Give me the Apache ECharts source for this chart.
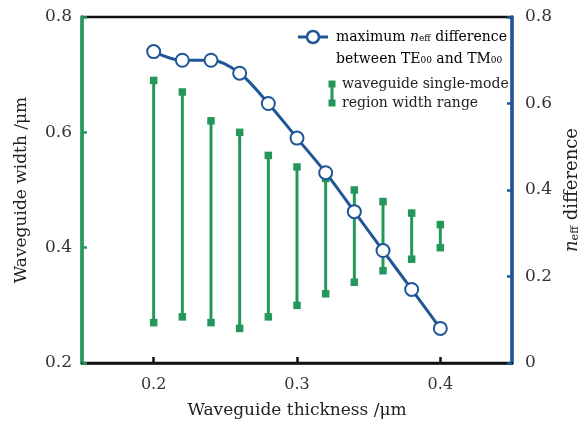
<!DOCTYPE html>
<html>
<head>
<meta charset="utf-8">
<script src="https://cdn.jsdelivr.net/npm/echarts@6/dist/echarts.min.js"></script>
<style>
  html, body { margin: 0; padding: 0; background: #fff; }
  #chart { width: 579px; height: 425px; }
</style>
</head>
<body>
<div id="chart"></div>
<script>
// Waveguide thickness (µm)
const thickness = [0.20, 0.22, 0.24, 0.26, 0.28, 0.30, 0.32, 0.34, 0.36, 0.38, 0.40];
// Single-mode width range (µm): lower and upper bounds
const widthLow  = [0.27, 0.28, 0.27, 0.26, 0.28, 0.30, 0.32, 0.34, 0.36, 0.38, 0.40];
const widthHigh = [0.69, 0.67, 0.62, 0.60, 0.56, 0.54, 0.52, 0.50, 0.48, 0.46, 0.44];
// Maximum n_eff difference between TE00 and TM00
const neffDiff  = [0.72, 0.70, 0.70, 0.67, 0.60, 0.52, 0.44, 0.35, 0.26, 0.17, 0.08];
// Tick values
const xTicks = [0.2, 0.3, 0.4];

const BLUE = '#1f5696';
const GREEN = '#23985a';
const FONT = 'DejaVu Serif';

const chart = echarts.init(document.getElementById('chart'), null, { renderer: 'canvas' });

const rangeData = thickness.map((t, i) => [t, widthLow[i], widthHigh[i]]);
const lineData = thickness.map((t, i) => [t, neffDiff[i]]);

function renderRange(params, api) {
  const x = api.value(0);
  const lo = api.coord([x, api.value(1)]);
  const hi = api.coord([x, api.value(2)]);
  const s = 7.5;
  return {
    type: 'group',
    children: [
      { type: 'line', shape: { x1: lo[0], y1: lo[1], x2: hi[0], y2: hi[1] },
        style: { stroke: GREEN, lineWidth: 3 } },
      { type: 'rect', shape: { x: lo[0] - s / 2, y: lo[1] - s / 2, width: s, height: s },
        style: { fill: GREEN } },
      { type: 'rect', shape: { x: hi[0] - s / 2, y: hi[1] - s / 2, width: s, height: s },
        style: { fill: GREEN } }
    ]
  };
}

const subRich = {
  it: { fontFamily: FONT, fontStyle: 'italic', fontSize: 18, color: '#222' },
  sub: { fontFamily: FONT, fontSize: 11, color: '#222', verticalAlign: 'bottom', padding: [6, 0, 0, 0] },
  t: { fontFamily: FONT, fontSize: 18, color: '#222' }
};

const legRich = {
  t: { fontFamily: FONT, fontSize: 14, color: '#222' },
  it: { fontFamily: FONT, fontSize: 14, fontStyle: 'italic', color: '#222' },
  sub: { fontFamily: FONT, fontSize: 9, color: '#222', padding: [4, 0, 0, 0] }
};

chart.setOption({
  animation: false,
  backgroundColor: '#fff',
  grid: { left: 82, right: 67, top: 17, bottom: 62, show: true, borderColor: '#111', borderWidth: 2.5,
    outerBoundsMode: 'none', containLabel: false },
  xAxis: {
    type: 'value', min: 0.15, max: 0.45,
    name: 'Waveguide thickness /μm', nameLocation: 'middle', nameGap: 39,
    nameTextStyle: { fontFamily: FONT, fontSize: 17, color: '#222' },
    axisLine: { show: true, onZero: false, lineStyle: { color: '#111', width: 2.5 } },
    axisTick: { show: true, inside: true, length: 6, customValues: xTicks, lineStyle: { color: '#111', width: 2.5 } },
    axisLabel: { customValues: xTicks, fontFamily: FONT, fontSize: 16, color: '#333', margin: 14,
      formatter: v => String(v) },
    splitLine: { show: false }
  },
  yAxis: [
    {
      type: 'value', min: 0.2, max: 0.8, interval: 0.2, position: 'left',
      name: 'Waveguide width /μm', nameLocation: 'middle', nameGap: 52, nameRotate: 90,
      nameTextStyle: { fontFamily: FONT, fontSize: 17, color: '#222' },
      axisLine: { show: true, lineStyle: { color: GREEN, width: 3.5 } },
      axisTick: { show: true, inside: true, length: 5, lineStyle: { color: GREEN, width: 2.5 } },
      axisLabel: { fontFamily: FONT, fontSize: 17, color: '#333', margin: 10,
        formatter: v => String(+v.toFixed(1)) },
      splitLine: { show: false }
    },
    {
      type: 'value', min: 0, max: 0.8, interval: 0.2, position: 'right',
      name: '{it|n}{sub|eff}{t| difference}', nameLocation: 'middle', nameGap: 43, nameRotate: 90,
      nameTextStyle: { rich: subRich },
      axisLine: { show: true, lineStyle: { color: BLUE, width: 3.5 } },
      axisTick: { show: true, inside: true, length: 5, lineStyle: { color: BLUE, width: 2.5 } },
      axisLabel: { fontFamily: FONT, fontSize: 17, color: '#333', margin: 13,
        formatter: v => String(+v.toFixed(1)) },
      splitLine: { show: false }
    }
  ],
  series: [
    {
      name: 'range', type: 'custom', yAxisIndex: 0, data: rangeData,
      renderItem: renderRange, z: 2,
      encode: { x: 0, y: [1, 2] }
    },
    {
      name: 'neff', type: 'line', yAxisIndex: 1, data: lineData, smooth: 0.35,
      symbol: 'emptyCircle', symbolSize: 13,
      lineStyle: { color: BLUE, width: 3 },
      itemStyle: { color: BLUE, borderColor: BLUE, borderWidth: 2.5 },
      z: 3
    }
  ],
  graphic: [
    // legend: line with circle marker
    { type: 'line', shape: { x1: 298, y1: 37, x2: 328, y2: 37 }, style: { stroke: BLUE, lineWidth: 3 }, z: 10 },
    { type: 'circle', shape: { cx: 313, cy: 37, r: 6 }, style: { fill: '#fff', stroke: BLUE, lineWidth: 2.5 }, z: 11 },
    { type: 'text', x: 336, y: 37, z: 10,
      style: { text: '{t|maximum }{it|n}{sub|eff}{t| difference}', rich: legRich, verticalAlign: 'middle' } },
    { type: 'text', x: 336, y: 59, z: 10,
      style: { text: '{t|between TE}{sub|00}{t| and TM}{sub|00}', rich: legRich, verticalAlign: 'middle' } },
    // legend: range bar
    { type: 'line', shape: { x1: 332, y1: 84, x2: 332, y2: 103 }, style: { stroke: GREEN, lineWidth: 3 }, z: 10 },
    { type: 'rect', shape: { x: 328.5, y: 80.5, width: 7, height: 7 }, style: { fill: GREEN }, z: 10 },
    { type: 'rect', shape: { x: 328.5, y: 99.5, width: 7, height: 7 }, style: { fill: GREEN }, z: 10 },
    { type: 'text', x: 342, y: 84, z: 10,
      style: { text: 'waveguide single-mode', font: '14px "DejaVu Serif"', fill: '#222', verticalAlign: 'middle' } },
    { type: 'text', x: 342, y: 103, z: 10,
      style: { text: 'region width range', font: '14px "DejaVu Serif"', fill: '#222', verticalAlign: 'middle' } }
  ]
});
</script>
</body>
</html>
